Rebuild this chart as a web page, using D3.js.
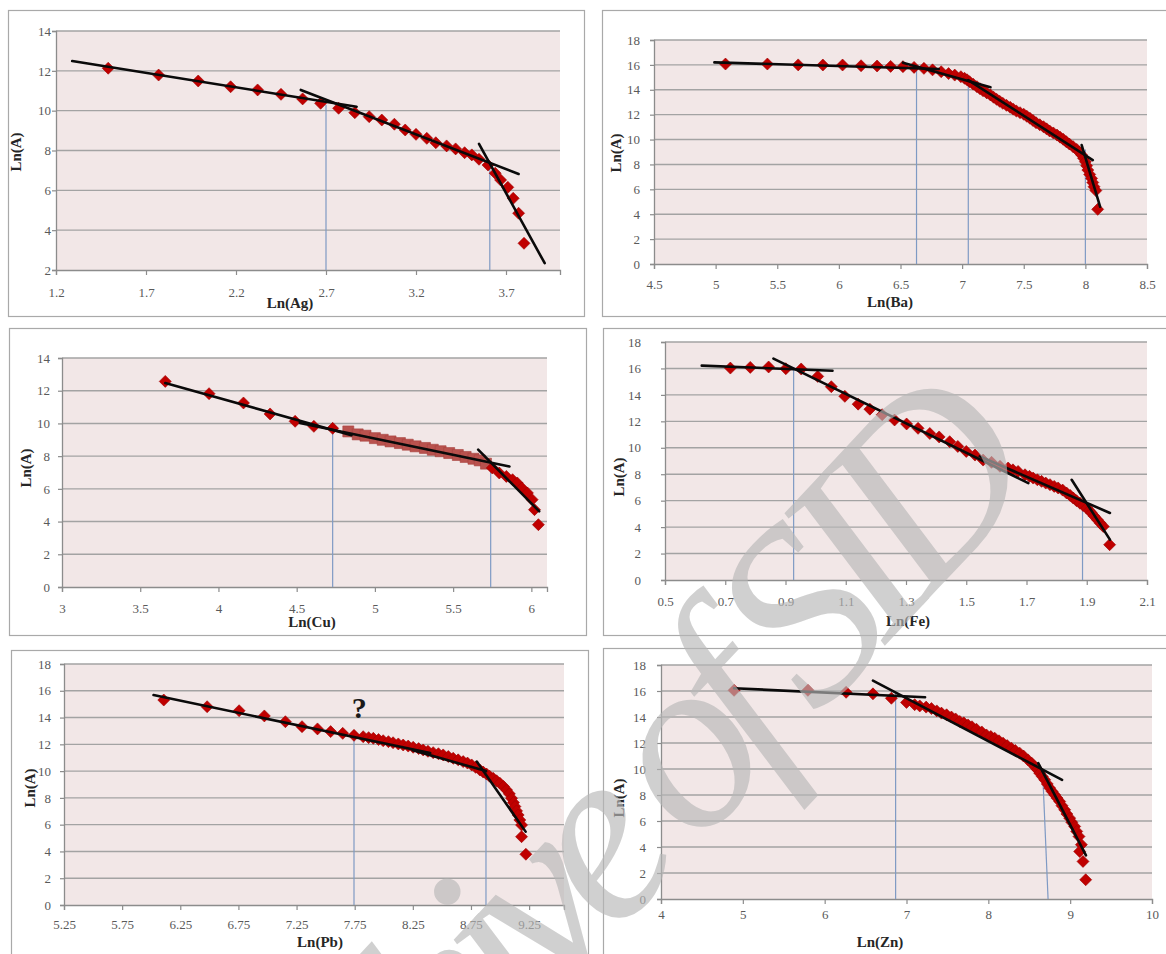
<!DOCTYPE html>
<html>
<head>
<meta charset="utf-8">
<script src="https://cdn.jsdelivr.net/npm/d3@7"></script>
<style>
  body { margin: 0; background: #fff; }
  svg text { font-family: "Liberation Serif", "Times New Roman", serif; }
</style>
</head>
<body>
<script>
// ---- Ag ----
const agX = [1.49, 1.77, 1.99, 2.17, 2.32, 2.45, 2.57, 2.67, 2.77, 2.86, 2.94, 3.01, 3.08, 3.14, 3.20, 3.26, 3.31, 3.37, 3.42, 3.47, 3.51, 3.55, 3.60, 3.64, 3.67, 3.71, 3.74, 3.77, 3.80];
const agY = [12.13, 11.79, 11.49, 11.2, 11.04, 10.82, 10.59, 10.37, 10.12, 9.9, 9.7, 9.53, 9.32, 9.03, 8.81, 8.61, 8.39, 8.23, 8.08, 7.89, 7.78, 7.56, 7.27, 6.86, 6.52, 6.15, 5.6, 4.85, 3.34];
const agFits = [[1.29, 12.49, 2.87, 10.2], [2.56, 11.04, 3.77, 6.82], [3.55, 8.33, 3.915, 2.34]];
const agBreaks = [[2.7, 10.3], [3.61, 7.36]];
const agXTicks = [1.2, 1.7, 2.2, 2.7, 3.2, 3.7];
const agYTicks = [2, 4, 6, 8, 10, 12, 14];

// ---- Ba ----
const baX = [5.08, 5.42, 5.67, 5.87, 6.03, 6.18, 6.31, 6.42, 6.52, 6.61, 6.69, 6.76, 6.83, 6.89, 6.94, 6.99,
  7.02, 7.04, 7.06, 7.09, 7.12, 7.145, 7.17, 7.2, 7.23, 7.255, 7.28, 7.305, 7.33, 7.36, 7.39, 7.415, 7.44, 7.47, 7.50,
  7.525, 7.55, 7.575, 7.60, 7.63, 7.66, 7.685, 7.71, 7.74, 7.77, 7.795, 7.82, 7.845, 7.87, 7.90, 7.93, 7.95, 7.97,
  7.985, 8.0, 8.01, 8.02, 8.035, 8.05, 8.06, 8.07, 8.085, 8.10];
const baY = [16.07, 16.07, 16.0, 15.99, 15.99, 15.93, 15.91, 15.88, 15.86, 15.8, 15.72, 15.6, 15.45, 15.3, 15.18, 15.05,
  14.92, 14.8, 14.65, 14.45, 14.25, 14.08, 13.92, 13.75, 13.58, 13.4, 13.23, 13.07, 12.91, 12.75, 12.59, 12.44, 12.29, 12.16, 12.03,
  11.87, 11.71, 11.53, 11.35, 11.19, 11.03, 10.86, 10.69, 10.53, 10.36, 10.19, 10.02, 9.83, 9.64, 9.43, 9.21, 8.99, 8.76,
  8.5, 8.22, 7.9, 7.55, 7.2, 6.88, 6.55, 6.21, 5.9, 4.39];
const baFits = [[4.99, 16.2, 6.81, 15.67], [6.52, 16.18, 7.23, 14.2], [7.05, 14.78, 8.06, 8.35], [7.97, 9.56, 8.12, 4.6]];
const baBreaks = [[6.63, 15.95], [7.05, 14.85], [8.0, 9.2]];
const baXTicks = [4.5, 5, 5.5, 6, 6.5, 7, 7.5, 8, 8.5];
const yTicks18 = [0, 2, 4, 6, 8, 10, 12, 14, 16, 18];

// ---- Cu ----
const cuX = [3.66, 3.94, 4.16, 4.33, 4.49, 4.61, 4.73, 5.75, 5.795, 5.84, 5.88, 5.91, 5.94, 5.975, 6.005, 6.02, 6.045];
const cuY = [12.57, 11.82, 11.25, 10.58, 10.13, 9.82, 9.7, 7.28, 6.97, 6.76, 6.56, 6.36, 6.05, 5.75, 5.34, 4.73, 3.81];
const cuSqX = [4.83, 4.89, 4.94, 5.0, 5.05, 5.1, 5.16, 5.21, 5.26, 5.32, 5.37, 5.42, 5.475, 5.53, 5.58, 5.63, 5.67, 5.71];
const cuSqY = [9.51, 9.33, 9.25, 9.1, 9.0, 8.9, 8.8, 8.7, 8.6, 8.5, 8.39, 8.3, 8.19, 8.07, 7.95, 7.84, 7.74, 7.54];
const cuFits = [[3.66, 12.47, 4.85, 9.28], [4.52, 10.03, 5.86, 7.37], [5.66, 8.40, 6.05, 4.63]];
const cuBreaks = [[4.73, 9.56], [5.74, 7.75]];
const cuXTicks = [3, 3.5, 4, 4.5, 5, 5.5, 6];
const cuYTicks = [0, 2, 4, 6, 8, 10, 12, 14];

// ---- Fe ----
const feX = [0.717, 0.783, 0.844, 0.901, 0.952, 1.007, 1.052, 1.097, 1.141, 1.18, 1.221, 1.262, 1.302, 1.34, 1.379, 1.41,
  1.445, 1.472, 1.50, 1.529, 1.556, 1.584, 1.612, 1.639, 1.655, 1.672, 1.695, 1.71, 1.722, 1.736, 1.75, 1.764, 1.778,
  1.792, 1.805, 1.82, 1.833, 1.845, 1.855, 1.866, 1.877, 1.888, 1.9, 1.908, 1.916, 1.925, 1.935, 1.945, 1.955, 1.976];
const feY = [16.03, 16.08, 16.11, 15.98, 15.96, 15.40, 14.62, 13.89, 13.3, 12.92, 12.5, 12.1, 11.8, 11.47, 11.08, 10.82,
  10.46, 10.1, 9.72, 9.45, 9.07, 8.9, 8.6, 8.47, 8.33, 8.21, 7.96, 7.84, 7.71, 7.58, 7.46, 7.33, 7.21,
  7.08, 6.96, 6.8, 6.58, 6.4, 6.2, 6.0, 5.82, 5.63, 5.44, 5.25, 5.07, 4.82, 4.56, 4.3, 4.05, 2.67];
const feFits = [[0.622, 16.21, 1.056, 15.83], [0.86, 16.74, 1.706, 7.33], [1.545, 9.35, 1.977, 5.07], [1.85, 7.58, 1.977, 3.05]];
const feBreaks = [[0.927, 16.1], [1.886, 5.95]];
const feXTicks = [0.5, 0.7, 0.9, 1.1, 1.3, 1.5, 1.7, 1.9, 2.1];

// ---- Pb ----
const pbX = [6.108, 6.481, 6.756, 6.973, 7.154, 7.297, 7.43, 7.543, 7.647, 7.744, 7.823, 7.87, 7.91, 7.955, 7.995, 8.04,
  8.08, 8.125, 8.167, 8.21, 8.253, 8.3, 8.339, 8.38, 8.425, 8.47, 8.511, 8.555, 8.597, 8.64, 8.683, 8.72, 8.756, 8.79,
  8.827, 8.855, 8.884, 8.91, 8.941, 8.97, 8.999, 9.03, 9.056, 9.08, 9.099, 9.115, 9.128, 9.142, 9.156, 9.17, 9.185, 9.185, 9.222];
const pbY = [15.31, 14.81, 14.51, 14.12, 13.69, 13.32, 13.15, 12.95, 12.82, 12.67, 12.57, 12.5, 12.45, 12.36, 12.27, 12.2,
  12.12, 12.03, 11.95, 11.87, 11.78, 11.68, 11.58, 11.48, 11.38, 11.3, 11.21, 11.09, 10.96, 10.84, 10.71, 10.6, 10.46, 10.28,
  10.08, 9.93, 9.78, 9.62, 9.46, 9.28, 9.09, 8.85, 8.59, 8.3, 7.97, 7.65, 7.35, 7.03, 6.72, 6.35, 5.97, 5.10, 3.79];
const pbFits = [[6.02, 15.68, 8.40, 11.35], [8.25, 11.55, 8.88, 10.0], [8.80, 10.71, 9.22, 5.48]];
const pbBreaks = [[7.744, 12.75], [8.879, 9.9]];
const pbXTicks = [5.25, 5.75, 6.25, 6.75, 7.25, 7.75, 8.25, 8.75, 9.25];
const pbMark = { label: "?", x: 7.79, y: 13.97 };

// ---- Zn ----
const znX = [4.893, 5.795, 6.262, 6.59, 6.815, 7.0, 7.1, 7.162, 7.24, 7.305, 7.37, 7.427, 7.49, 7.549, 7.6, 7.651, 7.7,
  7.752, 7.8, 7.855, 7.92, 7.977, 8.03, 8.078, 8.13, 8.18, 8.23, 8.282, 8.33, 8.383, 8.43, 8.485, 8.53, 8.567, 8.6,
  8.628, 8.66, 8.689, 8.72, 8.75, 8.78, 8.811, 8.84, 8.872, 8.9, 8.933, 8.96, 8.994, 9.02, 9.055, 9.08, 9.108, 9.137,
  9.116, 9.157, 9.19];
const znY = [16.05, 16.05, 15.9, 15.78, 15.44, 15.12, 14.95, 14.85, 14.76, 14.65, 14.47, 14.3, 14.17, 14.0, 13.85, 13.66, 13.55,
  13.39, 13.25, 13.06, 12.85, 12.62, 12.5, 12.37, 12.17, 11.99, 11.8, 11.6, 11.42, 11.22, 11.0, 10.7, 10.45, 10.19, 9.95,
  9.68, 9.42, 9.17, 8.85, 8.53, 8.27, 8.01, 7.76, 7.5, 7.18, 6.86, 6.54, 6.22, 5.9, 5.58, 5.2, 4.81, 4.18,
  3.66, 2.89, 1.48];
const znFits = [[4.893, 16.21, 7.227, 15.52], [6.59, 16.8, 8.901, 9.17], [8.61, 10.45, 9.193, 3.36]];
const znBreaks = [[6.867, 15.8, 6.867], [8.73, 9.6, 8.665]];
const znXTicks = [4, 5, 6, 7, 8, 9, 10];

const W = 1166, H = 954;
const svg = d3.select("body").append("svg").attr("width", W).attr("height", H);

const panels = [
  { box: [8, 10, 576, 306], plot: { l: 56, r: 560, t: 31, b: 270 }, xDomain: [1.2, 4.0], yDomain: [2, 14],
    xTicks: agXTicks, yTicks: agYTicks, xPad: 13, yPad: 1, xTitle: "Ln(Ag)", xt: [290, 308], yt: [16, 152],
    series: [{ x: agX, y: agY, shape: "diamond" }], fits: agFits, breaks: agBreaks },
  { box: [602, 10, 600, 306], plot: { l: 654, r: 1147, t: 40, b: 264 }, xDomain: [4.5, 8.5], yDomain: [0, 18],
    xTicks: baXTicks, yTicks: yTicks18, xPad: 11, yPad: 10, xTitle: "Ln(Ba)", xt: [890, 307], yt: [616, 153],
    series: [{ x: baX, y: baY, shape: "diamond" }], fits: baFits, breaks: baBreaks },
  { box: [9, 328, 577, 307], plot: { l: 62, r: 547, t: 358, b: 587 }, xDomain: [3, 6.1], yDomain: [0, 14],
    xTicks: cuXTicks, yTicks: cuYTicks, xPad: 12, yPad: 8, xTitle: "Ln(Cu)", xt: [312, 627], yt: [26, 468],
    series: [{ x: cuSqX, y: cuSqY, shape: "square" }, { x: cuX, y: cuY, shape: "diamond" }], fits: cuFits, breaks: cuBreaks },
  { box: [603, 328, 600, 307], plot: { l: 665, r: 1147, t: 342, b: 580 }, xDomain: [0.5, 2.1], yDomain: [0, 18],
    xTicks: feXTicks, yTicks: yTicks18, xPad: 12, yPad: 20, xTitle: "Ln(Fe)", xt: [908, 626], yt: [619, 477],
    series: [{ x: feX, y: feY, shape: "diamond" }], fits: feFits, breaks: feBreaks },
  { box: [11, 650, 577, 330], plot: { l: 64, r: 564, t: 664, b: 905 }, xDomain: [5.25, 9.55], yDomain: [0, 18],
    xTicks: pbXTicks, yTicks: yTicks18, xPad: 10, yPad: 9, xTitle: "Ln(Pb)", xt: [320, 947], yt: [30, 788],
    series: [{ x: pbX, y: pbY, shape: "diamond" }], fits: pbFits, breaks: pbBreaks, mark: pbMark },
  { box: [603, 648, 600, 330], plot: { l: 661, r: 1152, t: 665, b: 899 }, xDomain: [4, 10], yDomain: [0, 18],
    xTicks: znXTicks, yTicks: yTicks18, xPad: 6, yPad: 11, xTitle: "Ln(Zn)", xt: [880, 947], yt: [619, 798],
    series: [{ x: znX, y: znY, shape: "diamond" }], fits: znFits, breaks: znBreaks }
];

const shapes = {
  diamond: "M0,-6L6,0L0,6L-6,0Z",
  square: "M-5.5,-5.5H5.5V5.5H-5.5Z"
};
const fmt = d => String(+d.toFixed(2));

function drawPanel(p) {
  const g = svg.append("g");
  const { l, r, t, b } = p.plot;
  const x = d3.scaleLinear().domain(p.xDomain).range([l, r]);
  const y = d3.scaleLinear().domain(p.yDomain).range([b, t]);

  g.append("rect")
    .attr("x", p.box[0] + 0.5).attr("y", p.box[1] + 0.5)
    .attr("width", p.box[2]).attr("height", p.box[3])
    .attr("fill", "#fff").attr("stroke", "#a9a9a9").attr("stroke-width", 1.2);

  g.append("rect")
    .attr("x", l).attr("y", t).attr("width", r - l).attr("height", b - t)
    .attr("fill", "#f2e7e7");

  // gridlines
  g.selectAll(".grid")
    .data(p.yTicks.slice(1))
    .enter()
    .append("line")
    .attr("x1", l).attr("x2", r)
    .attr("y1", d => y(d)).attr("y2", d => y(d))
    .attr("stroke", "#a3a3a3").attr("stroke-width", 1.4);

  const xAxis = d3.axisBottom(x).tickValues(p.xTicks).tickFormat(fmt).tickSize(5).tickPadding(p.xPad);
  const yAxis = d3.axisLeft(y).tickValues(p.yTicks).tickFormat(fmt).tickSize(4).tickPadding(p.yPad);

  const gx = g.append("g").attr("transform", "translate(0," + b + ")").call(xAxis);
  const gy = g.append("g").attr("transform", "translate(" + l + ",0)").call(yAxis);
  [gx, gy].forEach(a => {
    a.select(".domain").attr("stroke", "#8c8c8c").attr("stroke-width", 1.3);
    a.selectAll(".tick line").attr("stroke", "#8c8c8c").attr("stroke-width", 1.2);
    a.selectAll(".tick text")
      .attr("fill", "#5a5a5a")
      .style("font-size", "13px")
      .style("font-family", "'Liberation Serif', serif");
  });

  // break lines
  g.selectAll(".brk")
    .data(p.breaks)
    .enter()
    .append("line")
    .attr("x1", d => x(d[0])).attr("y1", b)
    .attr("x2", d => x(d.length > 2 ? d[2] : d[0])).attr("y2", d => y(d[1]))
    .attr("stroke", "#7f9ac4").attr("stroke-width", 1.2);

  // markers
  p.series.forEach(s => {
    const col = s.shape === "square" ? "#b9524e" : "#c00000";
    const edge = s.shape === "square" ? "#a8423e" : "#9e0000";
    g.append("g")
      .selectAll("path")
      .data(s.x.map((v, i) => [v, s.y[i]]))
      .enter()
      .append("path")
      .attr("d", shapes[s.shape])
      .attr("transform", d => "translate(" + x(d[0]) + "," + y(d[1]) + ")")
      .attr("fill", col)
      .attr("stroke", edge)
      .attr("stroke-width", 0.6);
  });

  // fitted segments
  g.selectAll(".fit")
    .data(p.fits)
    .enter()
    .append("line")
    .attr("x1", d => x(d[0])).attr("y1", d => y(d[1]))
    .attr("x2", d => x(d[2])).attr("y2", d => y(d[3]))
    .attr("stroke", "#0a0a0a").attr("stroke-width", 2.6).attr("stroke-linecap", "round");

  g.append("text")
    .attr("x", p.xt[0]).attr("y", p.xt[1])
    .attr("text-anchor", "middle")
    .attr("font-weight", "bold").attr("font-size", 15).attr("fill", "#262626")
    .text(p.xTitle);

  g.append("text")
    .attr("transform", "translate(" + p.yt[0] + "," + p.yt[1] + ") rotate(-90)")
    .attr("dy", "0.35em")
    .attr("text-anchor", "middle")
    .attr("font-weight", "bold").attr("font-size", 15).attr("fill", "#262626")
    .text("Ln(A)");

  if (p.mark) {
    g.append("text")
      .attr("x", x(p.mark.x)).attr("y", y(p.mark.y))
      .attr("text-anchor", "middle")
      .attr("font-weight", "bold").attr("font-size", 30).attr("fill", "#1a1a1a")
      .text(p.mark.label);
  }
}

panels.forEach(drawPanel);

// watermark of the source archive
svg.append("text")
  .attr("transform", "translate(1030,490) rotate(-47)")
  .attr("text-anchor", "end")
  .attr("font-style", "italic")
  .attr("font-size", 250)
  .attr("letter-spacing", -26)
  .attr("fill", "#b8b8b8")
  .attr("opacity", 0.65)
  .text("Archive of SID");
</script>
</body>
</html>
